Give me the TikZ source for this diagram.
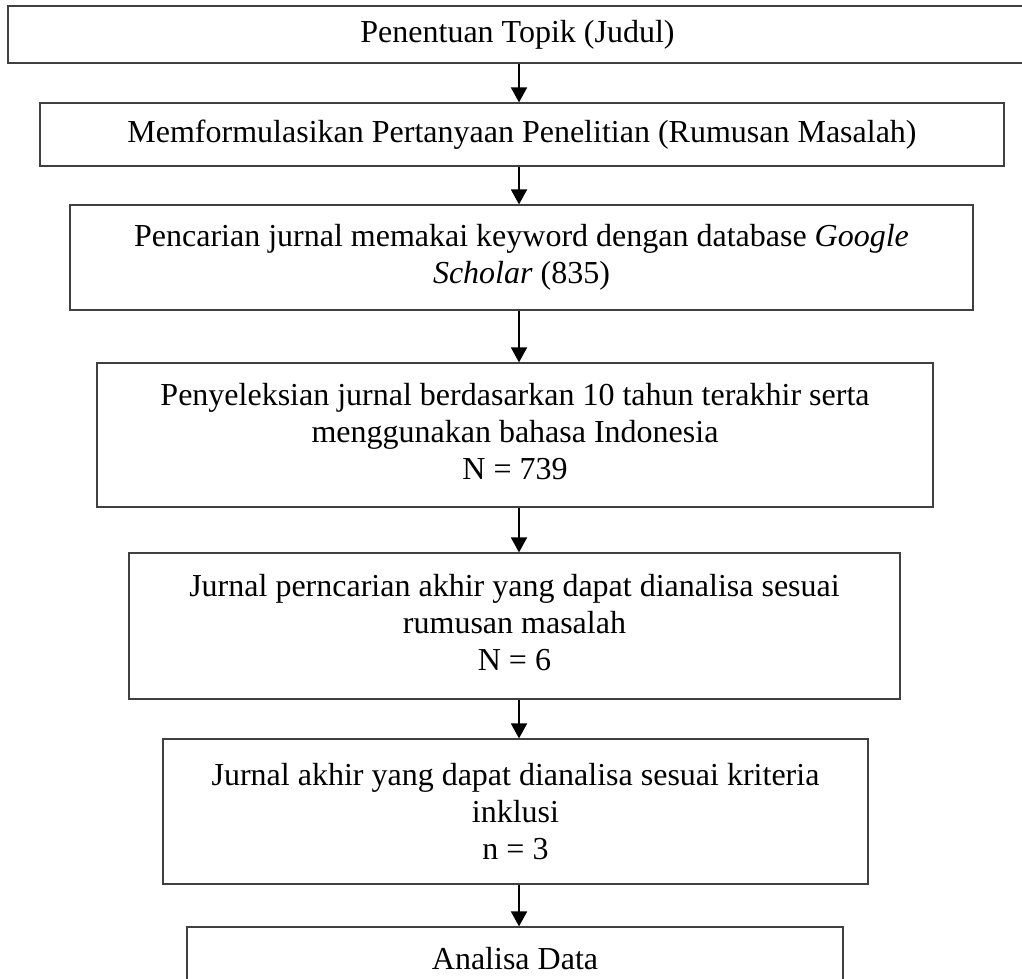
\documentclass[tikz,border=0pt]{standalone}
\usepackage{fontspec}
\setmainfont{Liberation Serif}
\usetikzlibrary{arrows.meta}
\begin{document}
\begin{tikzpicture}[x=1pt,y=-1pt,
  box/.style={draw=black!75, line width=1.2pt, rectangle, inner sep=0pt, align=center,
    font=\fontsize{32}{36.8}\selectfont},
  flow/.style={line width=1.8pt, -{Triangle[width=16pt,length=15pt]}}]
\useasboundingbox (0,0) rectangle (1022,979);
\node[box, minimum width=1019pt, minimum height=57pt] (b1) at (517.5,34.5) {Penentuan Topik (Judul)};
\node[box, minimum width=964pt, minimum height=63pt] (b2) at (522,134.5) {Memformulasikan Pertanyaan Penelitian (Rumusan Masalah)};
\node[box, minimum width=903pt, minimum height=105pt] (b3) at (521.5,257.5) {Pencarian jurnal memakai keyword dengan database \textit{Google}\\\textit{Scholar} (835)};
\node[box, minimum width=836pt, minimum height=144pt] (b4) at (515,435) {Penyeleksian jurnal berdasarkan 10 tahun terakhir serta\\menggunakan bahasa Indonesia\\N = 739\vphantom{g}};
\node[box, minimum width=771pt, minimum height=146pt] (b5) at (514.5,626) {Jurnal perncarian akhir yang dapat dianalisa sesuai\\rumusan masalah\\N = 6\vphantom{g}};
\node[box, minimum width=705pt, minimum height=145pt] (b6) at (515.5,811.5) {Jurnal akhir yang dapat dianalisa sesuai kriteria\\inklusi\\n = 3};
\node[box, minimum width=656pt, minimum height=63pt] (b7) at (515,958.5) {Analisa Data};
\coordinate (ax) at (519,0);
\draw[flow] (b1.south -| ax) -- (b2.north -| ax);
\draw[flow] (b2.south -| ax) -- (b3.north -| ax);
\draw[flow] (b3.south -| ax) -- (b4.north -| ax);
\draw[flow] (b4.south -| ax) -- (b5.north -| ax);
\draw[flow] (b5.south -| ax) -- (b6.north -| ax);
\draw[flow] (b6.south -| ax) -- (b7.north -| ax);
\end{tikzpicture}
\end{document}
